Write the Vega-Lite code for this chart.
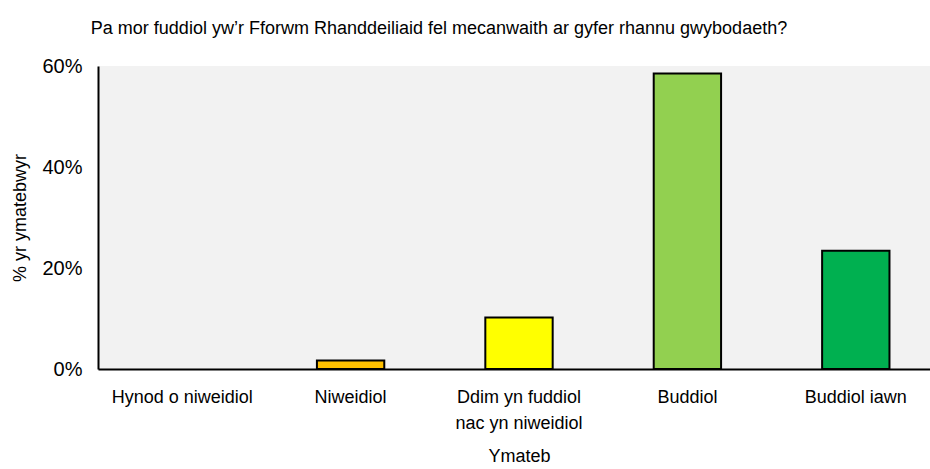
{
  "$schema": "https://vega.github.io/schema/vega-lite/v6.json",
  "autosize": "none",
  "width": 832,
  "height": 303,
  "padding": {"left": 98, "top": 66, "right": 0, "bottom": 100},
  "background": "white",
  "config": {
    "font": "Liberation Sans, Arial, sans-serif",
    "view": {"fill": "#F2F2F2", "stroke": null}
  },
  "title": {
    "text": "Pa mor fuddiol yw’r Fforwm Rhanddeiliaid fel mecanwaith ar gyfer rhannu gwybodaeth?",
    "fontSize": 18,
    "fontWeight": "normal",
    "color": "#000000",
    "anchor": "middle",
    "dx": -75,
    "offset": 18
  },
  "data": {
    "values": [
      {"ymateb": "Hynod o niweidiol", "pct": 0},
      {"ymateb": "Niweidiol", "pct": 1.7},
      {"ymateb": "Ddim yn fuddiol nac yn niweidiol", "pct": 10.2},
      {"ymateb": "Buddiol", "pct": 58.5},
      {"ymateb": "Buddiol iawn", "pct": 23.4}
    ]
  },
  "transform": [{"filter": "datum.pct > 0"}],
  "mark": {"type": "bar", "stroke": "#000000", "strokeWidth": 2},
  "encoding": {
    "x": {
      "field": "ymateb",
      "type": "nominal",
      "sort": null,
      "scale": {
        "domain": ["Hynod o niweidiol", "Niweidiol", "Ddim yn fuddiol nac yn niweidiol", "Buddiol", "Buddiol iawn"],
        "range": [0, 842], "paddingInner": 0.6, "paddingOuter": 0.3
      },
      "axis": {
        "title": "Ymateb",
        "titleFontSize": 18,
        "titleFontWeight": "normal",
        "titleColor": "#000000",
        "titlePadding": 15,
        "labelAngle": 0,
        "labelFontSize": 18,
        "labelColor": "#000000",
        "labelPadding": 19,
        "labelLineHeight": 26,
        "labelLimit": 300,
        "ticks": false,
        "domainColor": "#000000",
        "domainWidth": 2,
        "labelExpr": "datum.label == 'Ddim yn fuddiol nac yn niweidiol' ? ['Ddim yn fuddiol', 'nac yn niweidiol'] : datum.label"
      }
    },
    "y": {
      "field": "pct",
      "type": "quantitative",
      "scale": {"domain": [0, 60], "nice": false},
      "axis": {
        "title": "% yr ymatebwyr",
        "titleFontSize": 18,
        "titleFontWeight": "normal",
        "titleColor": "#000000",
        "titlePadding": 12,
        "values": [0, 20, 40, 60],
        "labelExpr": "datum.value + '%'",
        "labelFontSize": 20,
        "labelColor": "#000000",
        "labelPadding": 16,
        "ticks": false,
        "grid": false,
        "domainColor": "#000000",
        "domainWidth": 2
      }
    },
    "color": {
      "field": "ymateb",
      "type": "nominal",
      "sort": null,
      "scale": {
        "domain": ["Hynod o niweidiol", "Niweidiol", "Ddim yn fuddiol nac yn niweidiol", "Buddiol", "Buddiol iawn"],
        "range": ["#C00000", "#FFC000", "#FFFF00", "#92D050", "#00B050"]
      },
      "legend": null
    }
  }
}
